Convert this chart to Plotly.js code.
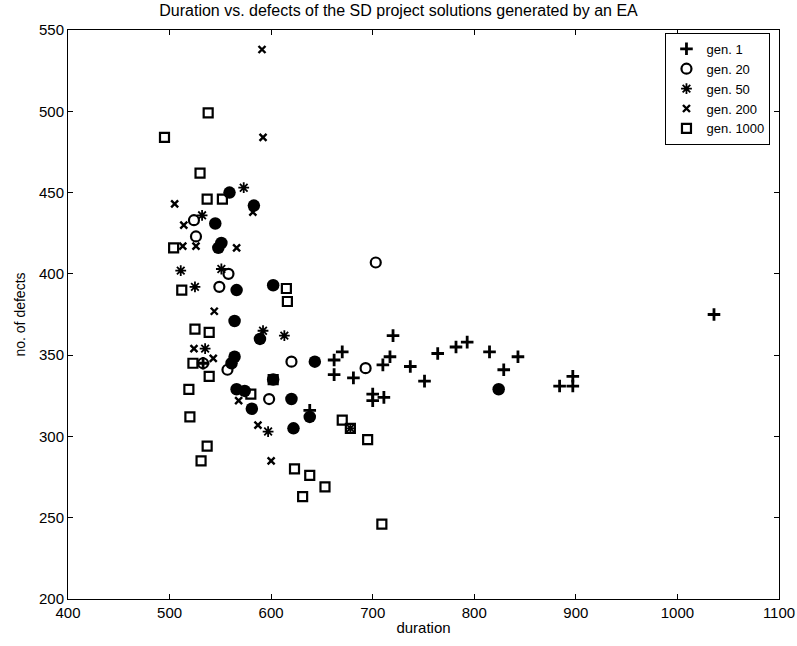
<!DOCTYPE html>
<html>
<head>
<meta charset="utf-8">
<script src="https://cdn.plot.ly/plotly-3.0.1.min.js"></script>
<style>html,body{margin:0;padding:0;background:#fff}#chart{width:797px;height:646px}</style>
</head>
<body>
<div id="chart"></div>
<script>
// gen. 1
const gen1Dur = [662, 662, 670, 681, 700, 700, 710, 711, 717, 720, 737, 751, 764, 782, 793, 815, 829, 843, 884, 897, 897, 1036, 638, 533];
const gen1Def = [347, 338, 352, 336, 326, 322, 344, 324, 349, 362, 343, 334, 351, 355, 358, 352, 341, 349, 331, 337, 331, 375, 316, 345];
// gen. 20
const gen20Dur = [524, 526, 558, 549, 703, 620, 693, 557, 533, 598];
const gen20Def = [433, 423, 400, 392, 407, 346, 342, 341, 345, 323];
// gen. 50
const gen50Dur = [573, 532, 511, 551, 525, 592, 613, 535, 597, 678];
const gen50Def = [453, 436, 402, 403, 392, 365, 362, 354, 303, 305];
// filled circles (not in legend)
const filledDur = [559, 583, 545, 551, 548, 566, 602, 564, 589, 564, 561, 643, 566, 574, 581, 620, 622, 638, 824, 602];
const filledDef = [450, 442, 431, 419, 416, 390, 393, 371, 360, 349, 345, 346, 329, 328, 317, 323, 305, 312, 329, 335];
// gen. 200
const gen200Dur = [591, 592, 505, 514, 513, 526, 566, 582, 544, 524, 543, 568, 587, 600];
const gen200Def = [538, 484, 443, 430, 417, 417, 416, 438, 377, 354, 348, 322, 307, 285];
// gen. 1000
const gen1000Dur = [538, 495, 530, 537, 552, 504, 512, 615, 616, 525, 539, 523, 539, 602, 519, 580, 520, 670, 678, 695, 537, 531, 623, 638, 653, 631, 709];
const gen1000Def = [499, 484, 462, 446, 446, 416, 390, 391, 383, 366, 364, 345, 337, 335, 329, 326, 312, 310, 305, 298, 294, 285, 280, 276, 269, 263, 246];

const xTicks = [400, 500, 600, 700, 800, 900, 1000, 1100];
const yTicks = [200, 250, 300, 350, 400, 450, 500, 550];

function tr(name, x, y, symbol, size, lw, show) {
  return {
    type: 'scatter', mode: 'markers', name: name, x: x, y: y,
    showlegend: show,
    marker: {symbol: symbol, size: size, color: '#000', line: {color: '#000', width: lw}},
    hoverinfo: 'x+y'
  };
}

const data = [
  tr('filled', filledDur, filledDef, 'circle', 12.5, 0, false),
  tr('gen. 1', gen1Dur, gen1Def, 'cross-thin-open', 9, 2.8, true),
  tr('gen. 20', gen20Dur, gen20Def, 'circle-open', 10, 2.2, true),
  tr('gen. 50', gen50Dur, gen50Def, 'asterisk-open', 9, 1.8, true),
  tr('gen. 200', gen200Dur, gen200Def, 'x-thin-open', 7, 2.4, true),
  tr('gen. 1000', gen1000Dur, gen1000Def, 'square-open', 9, 2.2, true)
];
const ordered = [data[1], data[2], data[3], data[4], data[5], data[0]];

const FONT = 'Liberation Sans, Arial, sans-serif';
const axisCommon = {
  showline: true, linecolor: '#000', linewidth: 1, mirror: 'ticks',
  ticks: 'inside', ticklen: 5, tickcolor: '#000', tickwidth: 1,
  showgrid: false, zeroline: false,
  tickfont: {family: FONT, size: 15, color: '#000'}
};

const layout = {
  width: 797, height: 646,
  paper_bgcolor: '#fff', plot_bgcolor: '#fff',
  margin: {l: 68, r: 18, t: 30, b: 47},
  font: {family: FONT, color: '#000'},
  title: {
    text: 'Duration vs. defects of the SD project solutions generated by an EA',
    font: {family: FONT, size: 16, color: '#000'},
    x: 0.5, xref: 'container', xanchor: 'center', y: 0.992, yanchor: 'top'
  },
  xaxis: Object.assign({}, axisCommon, {
    range: [400, 1100], tickvals: xTicks, ticktext: xTicks.map(String),
    title: {text: 'duration', font: {family: FONT, size: 15, color: '#000'}, standoff: 2}
  }),
  yaxis: Object.assign({}, axisCommon, {
    range: [200, 550], tickvals: yTicks, ticktext: yTicks.map(String),
    title: {text: 'no. of defects', font: {family: FONT, size: 14, color: '#000'}, standoff: 10}
  }),
  legend: {
    x: 0.988, xanchor: 'right', y: 0.995, yanchor: 'top',
    bgcolor: '#fff', bordercolor: '#000', borderwidth: 1,
    font: {family: FONT, size: 13, color: '#000'},
    tracegroupgap: 0, itemsizing: 'trace', itemwidth: 30
  },
  showlegend: true
};

Plotly.newPlot('chart', ordered, layout, {displayModeBar: false, staticPlot: true});
</script>
</body>
</html>
